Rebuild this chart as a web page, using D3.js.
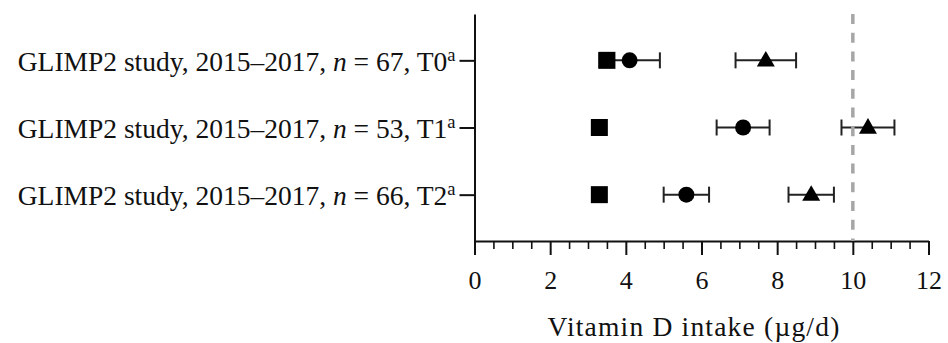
<!DOCTYPE html>
<html>
<head>
  <meta http-equiv="Content-Type" content="text/html;charset=utf-8">
  <title>Vitamin D intake</title>
  <script src="https://d3js.org/d3.v7.min.js"></script>
  <style>
    html, body { margin: 0; padding: 0; background: #fff; }
    svg { display: block; }
    text { font-family: "Liberation Serif", serif; fill: #111; }
  </style>
</head>
<body>
  <script type="text/javascript">
    // data
    var rows = ["T0", "T1", "T2"];
    var nValues = [67, 53, 66];
    var squareMean = [3.5, 3.3, 3.3];
    var circleMean = [4.1, 7.1, 5.6];
    var circleErr = [0.8, 0.7, 0.6];
    var triMean = [7.7, 10.4, 8.9];
    var triErr = [0.8, 0.7, 0.6];
    var xTicks = [0, 2, 4, 6, 8, 10, 12];
    var refValue = 10;

    var width = 948, height = 343;

    var svg = d3.select("body").append("svg")
      .attr("width", width)
      .attr("height", height);

    var x = d3.scaleLinear().domain([0, 12]).range([474.5, 928.5]);
    var y = d3.scalePoint().domain(rows).range([14, 241]).padding(0.69);

    // x axis, major + minor ticks
    var xAxis = svg.append("g")
      .attr("transform", "translate(0,241)")
      .call(d3.axisBottom(x).tickValues(xTicks).tickSize(14).tickPadding(16).tickSizeOuter(0));
    xAxis.selectAll("line").attr("stroke", "#111").attr("stroke-width", 2);
    xAxis.select(".domain").attr("stroke", "#111").attr("stroke-width", 2);
    xAxis.selectAll("text").attr("font-size", 26).style("font-family", "Liberation Serif").attr("fill", "#111");

    var minor = svg.append("g")
      .attr("transform", "translate(0,241)")
      .call(d3.axisBottom(x).tickValues(d3.range(0, 12.01, 0.5).filter(function (d) { return d % 2 !== 0; }))
        .tickSize(8).tickFormat(""));
    minor.select(".domain").remove();
    minor.selectAll("line").attr("stroke", "#111").attr("stroke-width", 1.6);

    // y axis
    var yAxis = svg.append("g")
      .attr("transform", "translate(474.5,0)")
      .call(d3.axisLeft(y).tickSize(15).tickPadding(5).tickSizeOuter(0).tickFormat(""));
    yAxis.selectAll("line").attr("stroke", "#111").attr("stroke-width", 2);
    yAxis.select(".domain").attr("stroke", "#111").attr("stroke-width", 2);

    yAxis.selectAll(".tick").each(function (d, i) {
      var t = d3.select(this).append("text")
        .attr("x", -19)
        .attr("dy", "0.36em")
        .attr("text-anchor", "end")
        .attr("font-size", 27.5)
        .style("font-family", "Liberation Serif");
      t.append("tspan").text("GLIMP2 study, 2015\u20132017, ");
      t.append("tspan").attr("font-style", "italic").text("n");
      t.append("tspan").text(" = " + nValues[i] + ", " + rows[i]);
      t.append("tspan").attr("font-size", 18.5).attr("dy", "-0.55em").text("a");
    });

    // axis title
    svg.append("text")
      .attr("x", 694)
      .attr("y", 336)
      .attr("text-anchor", "middle")
      .attr("font-size", 27.5)
      .attr("letter-spacing", 1.2)
      .text("Vitamin D intake (\u00b5g/d)");

    var plot = svg.append("g");

    // error bars
    function errBars(means, errs) {
      var g = plot.append("g").attr("stroke", "#222").attr("stroke-width", 2);
      rows.forEach(function (r, i) {
        var lo = x(means[i] - errs[i]), hi = x(means[i] + errs[i]), cy = y(r);
        g.append("line").attr("x1", lo).attr("x2", hi).attr("y1", cy).attr("y2", cy);
        g.append("line").attr("x1", lo).attr("x2", lo).attr("y1", cy - 8).attr("y2", cy + 8);
        g.append("line").attr("x1", hi).attr("x2", hi).attr("y1", cy - 8).attr("y2", cy + 8);
      });
    }
    errBars(circleMean, circleErr);
    errBars(triMean, triErr);

    // reference line
    plot.append("line")
      .attr("x1", x(refValue)).attr("x2", x(refValue))
      .attr("y1", 14).attr("y2", 241)
      .attr("stroke", "#a6a6a6")
      .attr("stroke-width", 3.5)
      .attr("stroke-dasharray", "10,8.7");

    // markers
    plot.selectAll(".circ").data(rows).enter().append("circle")
      .attr("cx", function (d, i) { return x(circleMean[i]); })
      .attr("cy", function (d) { return y(d); })
      .attr("r", 8)
      .attr("fill", "#000");

    plot.selectAll(".sq").data(rows).enter().append("rect")
      .attr("x", function (d, i) { return x(squareMean[i]) - 8.5; })
      .attr("y", function (d) { return y(d) - 8.5; })
      .attr("width", 17).attr("height", 17)
      .attr("fill", "#000");

    var tri = d3.symbol().type(d3.symbolTriangle).size(140);
    plot.selectAll(".tri").data(rows).enter().append("path")
      .attr("d", tri)
      .attr("transform", function (d, i) { return "translate(" + x(triMean[i]) + "," + (y(d) + 1) + ")"; })
      .attr("fill", "#000");
  </script>
</body>
</html>
